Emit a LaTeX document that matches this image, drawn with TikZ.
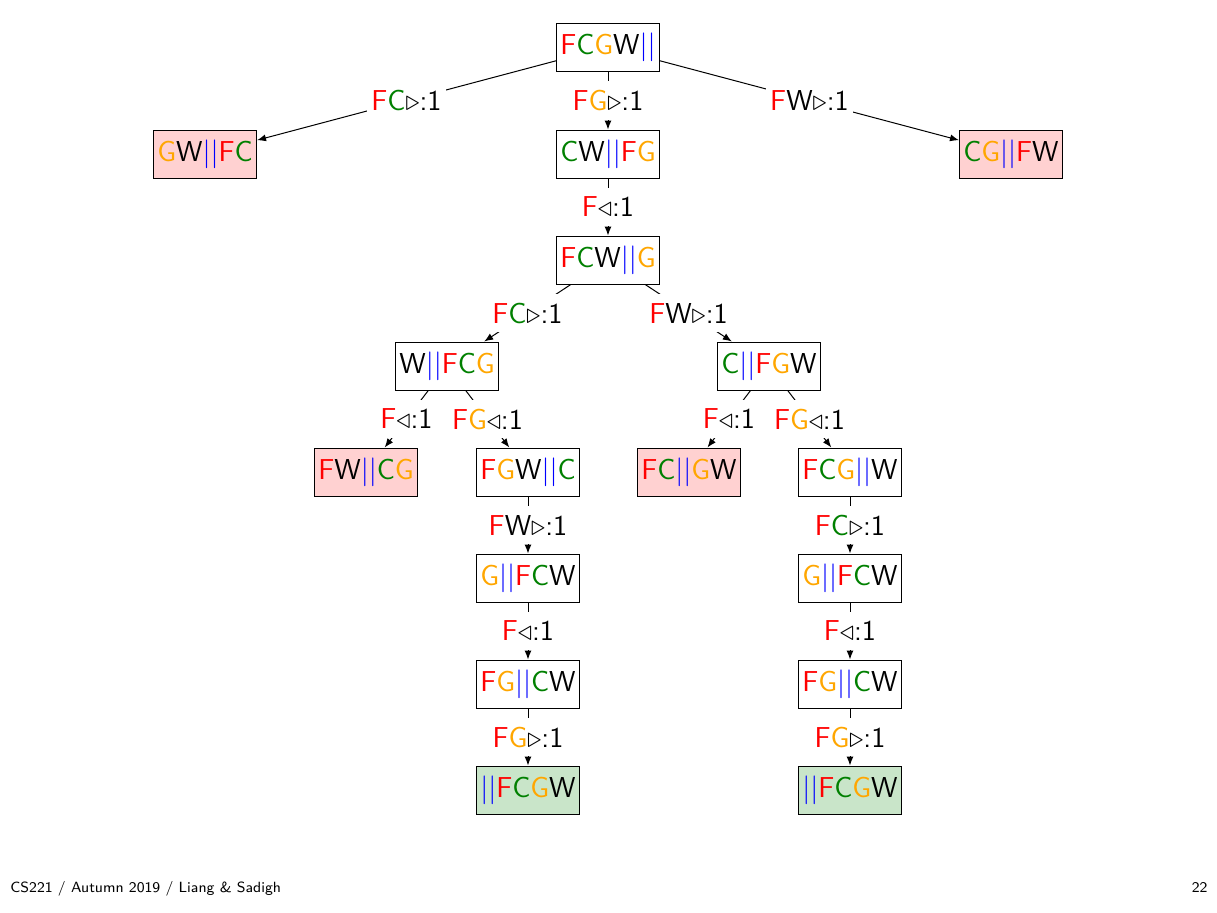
\documentclass[tikz,border=0pt]{standalone}
\usepackage{fontspec}
\usepackage{amssymb}
\usetikzlibrary{arrows.meta}
\definecolor{fgreen}{rgb}{0,0.5,0}
\definecolor{forange}{rgb}{1,0.65,0}
\definecolor{badfill}{rgb}{1,0.82,0.82}
\definecolor{goalfill}{rgb}{0.79,0.9,0.79}
\newcommand{\fF}{\textcolor{red}{F}}
\newcommand{\fC}{\textcolor{fgreen}{C}}
\newcommand{\fG}{\textcolor{forange}{G}}
\newcommand{\fW}{W}
\newcommand{\river}{\textcolor{blue}{||}}
\newcommand{\goR}{$\triangleright$:1}
\newcommand{\goL}{$\triangleleft$:1}

\begin{document}
\begin{tikzpicture}[x=0.5pt, y=-0.5pt,
    state/.style={draw, line width=0.5pt, minimum width=51.5pt, minimum height=24pt,
      inner sep=0pt, font=\sffamily\Large},
    bad/.style={state, fill=badfill},
    goal/.style={state, fill=goalfill},
    lbl/.style={fill=white, inner xsep=2pt, inner ysep=4.5pt, font=\sffamily\Large},
    edge/.style={line width=0.5pt, -{Latex[length=4.5pt,width=3.5pt]}}]
  \useasboundingbox (0,0) rectangle (1217,912);

  % states
  \node[state] (s0) at (608,47) {\fF\fC\fG\fW\river};
  \node[bad] (s1) at (205,154) {\fG\fW\river\fF\fC};
  \node[state] (s2) at (608,154) {\fC\fW\river\fF\fG};
  \node[bad] (s3) at (1011,154) {\fC\fG\river\fF\fW};
  \node[state] (s4) at (608,260) {\fF\fC\fW\river\fG};
  \node[state] (s5) at (447,366) {\fW\river\fF\fC\fG};
  \node[state] (s6) at (769,366) {\fC\river\fF\fG\fW};
  \node[bad] (s7) at (366,472) {\fF\fW\river\fC\fG};
  \node[state] (s8) at (528,472) {\fF\fG\fW\river\fC};
  \node[bad] (s9) at (689,472) {\fF\fC\river\fG\fW};
  \node[state] (s10) at (850,472) {\fF\fC\fG\river\fW};
  \node[state] (s11) at (528,578) {\fG\river\fF\fC\fW};
  \node[state] (s12) at (850,578) {\fG\river\fF\fC\fW};
  \node[state] (s13) at (528,684) {\fF\fG\river\fC\fW};
  \node[state] (s14) at (850,684) {\fF\fG\river\fC\fW};
  \node[goal] (s15) at (528,790) {\river\fF\fC\fG\fW};
  \node[goal] (s16) at (850,790) {\river\fF\fC\fG\fW};

  % moves
  \draw[edge] (s0) -- node[lbl] {\fF\fC\goR} (s1);
  \draw[edge] (s0) -- node[lbl] {\fF\fG\goR} (s2);
  \draw[edge] (s0) -- node[lbl] {\fF\fW\goR} (s3);
  \draw[edge] (s2) -- node[lbl] {\fF\goL} (s4);
  \draw[edge] (s4) -- node[lbl] {\fF\fC\goR} (s5);
  \draw[edge] (s4) -- node[lbl] {\fF\fW\goR} (s6);
  \draw[edge] (s5) -- node[lbl] {\fF\goL} (s7);
  \draw[edge] (s5) -- node[lbl] {\fF\fG\goL} (s8);
  \draw[edge] (s6) -- node[lbl] {\fF\goL} (s9);
  \draw[edge] (s6) -- node[lbl] {\fF\fG\goL} (s10);
  \draw[edge] (s8) -- node[lbl] {\fF\fW\goR} (s11);
  \draw[edge] (s10) -- node[lbl] {\fF\fC\goR} (s12);
  \draw[edge] (s11) -- node[lbl] {\fF\goL} (s13);
  \draw[edge] (s12) -- node[lbl] {\fF\goL} (s14);
  \draw[edge] (s13) -- node[lbl] {\fF\fG\goR} (s15);
  \draw[edge] (s14) -- node[lbl] {\fF\fG\goR} (s16);

  % footer
  \node[anchor=west, inner sep=0pt, font=\sffamily\fontsize{7.4}{9}\selectfont] (foot) at (10,889) {CS221 / Autumn 2019 / Liang \& Sadigh};
  \node[anchor=east, inner sep=0pt, font=\sffamily\fontsize{7.4}{9}\selectfont] (page) at (1208,887) {22};
\end{tikzpicture}
\end{document}
